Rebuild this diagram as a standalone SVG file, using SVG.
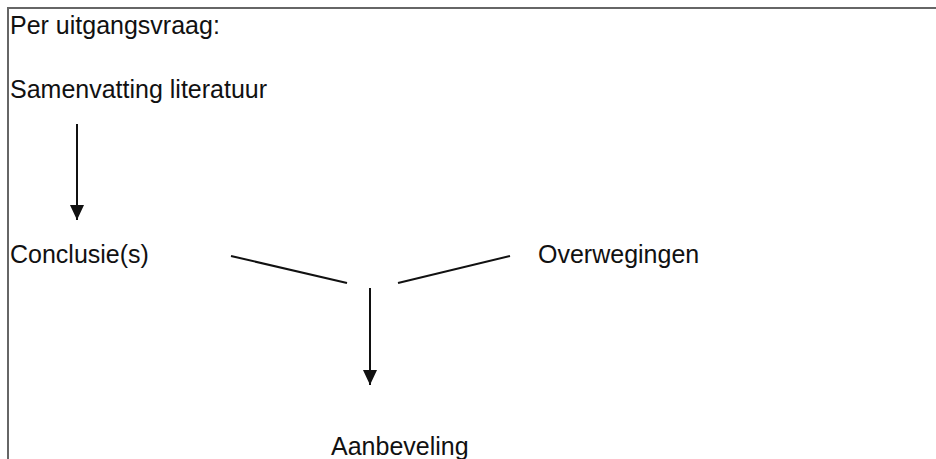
<svg xmlns="http://www.w3.org/2000/svg" width="936" height="459" viewBox="0 0 936 459">
<style>
.t{font-family:"Liberation Sans",Arial,sans-serif;font-size:25px;fill:#111}
.c{stroke:#111;stroke-width:2;fill:none}
.f{stroke:#666;stroke-width:2;fill:none}
</style>
<defs>
<marker id="ah" markerUnits="userSpaceOnUse" markerWidth="15" markerHeight="14" refX="15" refY="7" orient="auto" viewBox="0 0 15 14">
<path d="M0,0 L15,7 L0,14 Z" fill="#111"/>
</marker>
</defs>
<rect width="936" height="459" fill="#fff"/>
<path class="f" d="M8,459 V8 H936"/>
<g id="header"><text class="t" x="10" y="34">Per uitgangsvraag:</text></g>
<g id="samenvatting"><text class="t" x="10" y="98">Samenvatting literatuur</text></g>
<g id="conclusie"><text class="t" x="10" y="263">Conclusie(s)</text></g>
<g id="overwegingen"><text class="t" x="538" y="263">Overwegingen</text></g>
<g id="aanbeveling"><text class="t" x="331" y="455">Aanbeveling</text></g>
<g id="connectors">
<line class="c" x1="77" y1="124" x2="77" y2="220" marker-end="url(#ah)"/>
<line class="c" x1="231" y1="256" x2="347" y2="283"/>
<line class="c" x1="398" y1="283" x2="510" y2="256"/>
<line class="c" x1="370" y1="288" x2="370" y2="385" marker-end="url(#ah)"/>
</g>
</svg>
